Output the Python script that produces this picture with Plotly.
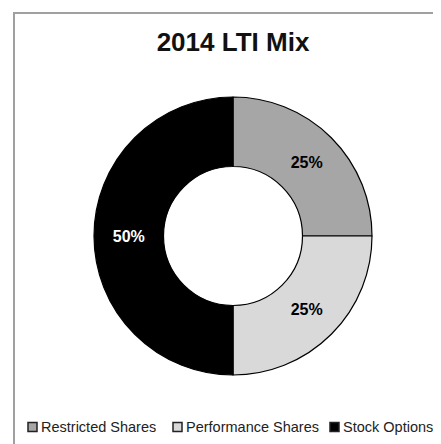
import plotly.graph_objects as go

labels = ["Restricted Shares", "Performance Shares", "Stock Options"]
values = [25, 25, 50]
colors = ["#a6a6a6", "#d9d9d9", "#000000"]
text_colors = ["#000000", "#000000", "#ffffff"]
title_text = "2014 LTI Mix"

# page has an 8px body margin; work in window pixel coordinates
OFF = 8
W, H = 441 - OFF, 444 - OFF


def px(x):
    return (x - OFF) / W


def py(y):
    return 1 - (y - OFF) / H


FONT = "Liberation Sans, Arial, Helvetica"

fig = go.Figure(go.Pie(
    labels=labels,
    values=values,
    hole=0.5,
    sort=False,
    direction="clockwise",
    rotation=0,
    marker=dict(colors=colors, line=dict(color="#000000", width=1.2)),
    textinfo="percent",
    texttemplate="<b>%{percent:.0%}</b>",
    textposition="inside",
    insidetextorientation="horizontal",
    textfont=dict(family=FONT, size=16, color=text_colors),
    domain=dict(x=[px(94), px(372)], y=[py(375), py(97)]),
    showlegend=False,
))

# custom compact legend (layout positions only)
legend_sq_x = [28, 173, 330]
legend_y = 427
sq = 9
shapes = [dict(type="rect", xref="paper", yref="paper",
               x0=px(14), x1=1.1, y0=-0.1, y1=py(13),
               line=dict(color="#a0a0a0", width=2))]
annotations = []
for lab, col, x0 in zip(labels, colors, legend_sq_x):
    shapes.append(dict(type="rect", xref="paper", yref="paper",
                       x0=px(x0), x1=px(x0 + sq),
                       y0=py(legend_y + sq / 2), y1=py(legend_y - sq / 2),
                       fillcolor=col, line=dict(color="#222222", width=1.5)))
    annotations.append(dict(text=lab, xref="paper", yref="paper",
                            x=px(x0 + sq + 2), y=py(legend_y),
                            xanchor="left", yanchor="middle", showarrow=False,
                            font=dict(family=FONT, size=14.5, color="#222222")))

fig.update_layout(
    width=W, height=H,
    margin=dict(l=0, r=0, t=0, b=0),
    paper_bgcolor="white",
    plot_bgcolor="white",
    title=dict(text="<b>" + title_text + "</b>", x=px(233), xanchor="center",
               y=py(42), yanchor="middle",
               font=dict(family=FONT, size=26, color="#111111")),
    showlegend=False,
    shapes=shapes,
    annotations=annotations,
)

fig.write_html("out.html")
